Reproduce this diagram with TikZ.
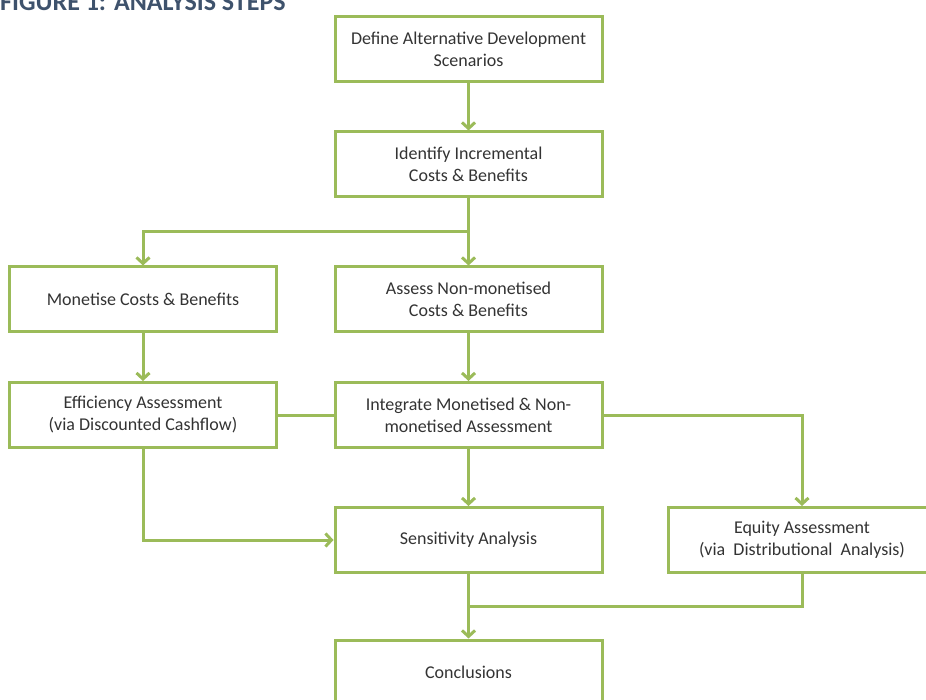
\documentclass[tikz,border=0pt]{standalone}
\usepackage{fontspec}
\setmainfont{Carlito}
\usetikzlibrary{positioning}
\usetikzlibrary{arrows.meta}
\usetikzlibrary{calc}
\definecolor{boxgreen}{RGB}{155,187,89}
\definecolor{titleblue}{RGB}{62,82,108}

\begin{document}
\begin{tikzpicture}[x=1pt, y=-1pt, >={Straight Barb[length=6pt,width=13pt]}, box/.style = {draw=boxgreen, line width=3pt, rectangle, minimum width=267pt, minimum height=65pt, align=center, text=black!80, font=\fontsize{18}{22}\selectfont}, link/.style = {draw=boxgreen, line width=3pt}]
    \useasboundingbox (0,0) rectangle (926,700);
    \clip (0,0) rectangle (926,700);
    \node[anchor=base west, inner sep=0pt, text=titleblue, font=\fontsize{26}{30}\selectfont\bfseries] (0) at (0,11) {FIGURE 1: ANALYSIS STEPS};
    \node[box] (1) at (468.5,49.5) {Define Alternative Development\\Scenarios};
    \node[box] (2) [below=47pt of 1] {Identify Incremental\\Costs \& Benefits};
    \node[box] (4) [below=67pt of 2] {Assess Non-monetised\\Costs \& Benefits};
    \node[box] (3) [left=55.5pt of 4] {Monetise Costs \& Benefits};
    \node[box] (6) [below=47.5pt of 4] {Integrate Monetised \& Non-\\monetised Assessment};
    \node[box] (5) [left=55.5pt of 6] {Efficiency Assessment\\(via Discounted Cashflow)};
    \node[box] (7) [below=57pt of 6] {Sensitivity Analysis};
    \node[box] (8) [right=63.5pt of 7] {Equity Assessment\\(via~ Distributional~ Analysis)};
    \node[box] (9) [below=64.5pt of 7] {Conclusions};
    \coordinate (b) at ($(2.south)!0.5!(4.north)$);
    \coordinate (m) at ($(7.south)!0.5!(9.north)$);
    \draw[link, ->] (1) -- (2);
    \draw[link, ->] (2) -- (b) -| (3);
    \draw[link, ->] (b) -- (4);
    \draw[link, ->] (3) -- (5);
    \draw[link, ->] (4) -- (6);
    \draw[link] (5) -- (6);
    \draw[link, ->] (6) -| (8);
    \draw[link, ->] (5) |- (7);
    \draw[link, ->] (6) -- (7);
    \draw[link] (8) |- (m);
    \draw[link, ->] (7) -- (9);
\end{tikzpicture}
\end{document}
